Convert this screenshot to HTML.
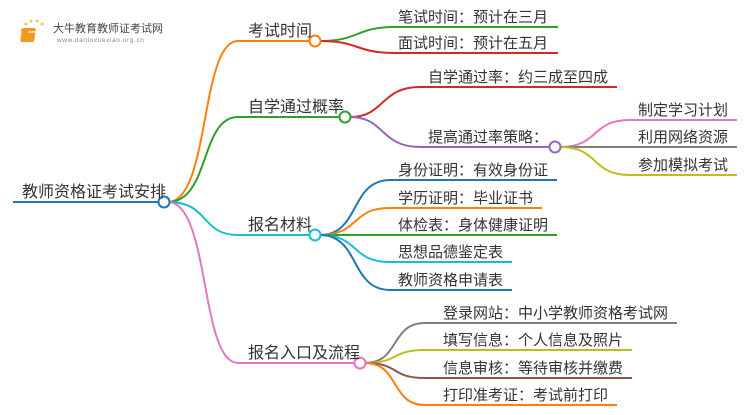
<!DOCTYPE html>
<html><head><meta charset="utf-8"><style>
body{margin:0;background:#fff}
svg text{font-family:"Liberation Sans","Noto Sans CJK SC",sans-serif;fill:#333}
</style></head><body>
<svg width="750" height="410" viewBox="0 0 750 410" xmlns="http://www.w3.org/2000/svg">
<g fill="none" stroke-width="2">
<!-- root -->
<path d="M13 202H160" stroke="#1f77b4"/>
<!-- main branches -->
<path d="M168 202C210 202 200 41 238 41H310" stroke="#ff7f0e"/>
<path d="M168 202C210 202 200 117 238 117H340" stroke="#2ca02c"/>
<path d="M168 202C210 202 200 235 238 235H310" stroke="#17becf"/>
<path d="M168 202C210 202 200 363 238 363H355" stroke="#e377c2"/>
<!-- 考试时间 leaves -->
<path d="M320 41C360 41 355 27 395 27H558" stroke="#2ca02c"/>
<path d="M320 41C360 41 355 53 395 53H558" stroke="#d62728"/>
<!-- 自学通过概率 -->
<path d="M350 117C385 117 380 87 420 87H617" stroke="#d62728"/>
<path d="M350 117C385 117 380 147 420 147H550" stroke="#9467bd"/>
<path d="M560 147C600 147 590 120 630 120H737" stroke="#e377c2"/>
<path d="M560 147H737" stroke="#7f7f7f"/>
<path d="M560 147C600 147 590 175 630 175H737" stroke="#bcbd22"/>
<!-- 报名材料 -->
<path d="M320 235C360 235 350 180 390 180H557" stroke="#1f77b4"/>
<path d="M320 235C360 235 350 208 390 208H542" stroke="#ff7f0e"/>
<path d="M320 235H557" stroke="#2ca02c"/>
<path d="M320 235C360 235 350 262 390 262H512" stroke="#17becf"/>
<path d="M320 235C360 235 350 290 390 290H512" stroke="#1f77b4"/>
<!-- 流程 -->
<path d="M365 363C400 363 390 323 425 323H677" stroke="#7f7f7f"/>
<path d="M365 363C400 363 390 350 425 350H632" stroke="#bcbd22"/>
<path d="M365 363C400 363 390 378 425 378H632" stroke="#8c564b"/>
<path d="M365 363C400 363 390 405 425 405H617" stroke="#ff7f0e"/>
</g>
<g fill="#fff" stroke-width="2">
<circle cx="164" cy="202" r="5.5" stroke="#1f77b4"/>
<circle cx="315" cy="41" r="5.5" stroke="#ff7f0e"/>
<circle cx="345" cy="117" r="5.5" stroke="#2ca02c"/>
<circle cx="315" cy="235" r="5.5" stroke="#17becf"/>
<circle cx="360" cy="363" r="5.5" stroke="#e377c2"/>
<circle cx="555" cy="147" r="5.5" stroke="#9467bd"/>
</g>
<!-- logo -->
<g>
<circle cx="26" cy="24" r="1.5" fill="#f7c75a"/><circle cx="31" cy="21" r="1.5" fill="#f7c75a"/><circle cx="37" cy="21" r="1.5" fill="#f7c75a"/><circle cx="42" cy="24" r="1.5" fill="#f7c75a"/><circle cx="22" cy="30" r="1.5" fill="#f7c75a"/>
<rect x="26" y="28" width="14" height="14" rx="2" fill="#f29a1e" transform="skewX(-8)"/>
<rect x="28" y="31" width="10" height="2" fill="#fff" opacity=".6"/>
</g>
<text x="53" y="32" font-size="11" style="fill:#444">大牛教育教师证考试网</text>
<text x="57" y="42" font-size="6.5" style="fill:#888" letter-spacing="0.6">www.daniuxuexiao.org.cn</text>
<g font-size="16">
<text x="22" y="197">教师资格证考试安排</text>
<text x="248" y="36">考试时间</text>
<text x="248" y="112">自学通过概率</text>
<text x="248" y="230">报名材料</text>
<text x="248" y="358">报名入口及流程</text>
</g>
<g font-size="15">
<text x="398" y="22">笔试时间：预计在三月</text>
<text x="398" y="48">面试时间：预计在五月</text>
<text x="428" y="82">自学通过率：约三成至四成</text>
<text x="428" y="142">提高通过率策略：</text>
<text x="638" y="115">制定学习计划</text>
<text x="638" y="142">利用网络资源</text>
<text x="638" y="170">参加模拟考试</text>
<text x="398" y="175">身份证明：有效身份证</text>
<text x="398" y="203">学历证明：毕业证书</text>
<text x="398" y="230">体检表：身体健康证明</text>
<text x="398" y="257">思想品德鉴定表</text>
<text x="398" y="285">教师资格申请表</text>
<text x="443" y="318">登录网站：中小学教师资格考试网</text>
<text x="443" y="345">填写信息：个人信息及照片</text>
<text x="443" y="373">信息审核：等待审核并缴费</text>
<text x="443" y="400">打印准考证：考试前打印</text>
</g>
</svg>
</body></html>
